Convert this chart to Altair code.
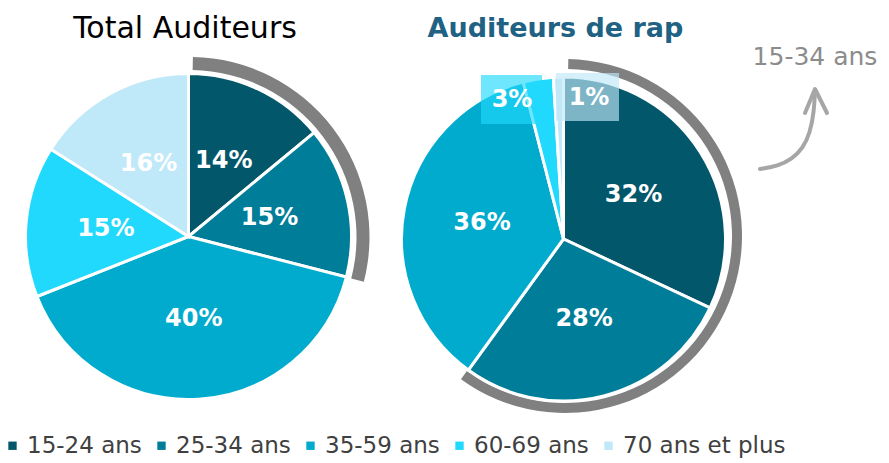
import altair as alt
import pandas as pd

# ---------------- data ----------------
ages = ["15-24 ans", "25-34 ans", "35-59 ans", "60-69 ans", "70 ans et plus"]
colors = ["#03576B", "#007D98", "#00ABCD", "#21D9FD", "#BFE8F8"]
total_values = [14, 15, 40, 15, 16]
rap_values = [32, 28, 36, 3, 1]
highlight_groups = 2  # 15-24 + 25-34 = "15-34 ans"

title_left = "Total Auditeurs"
title_right = "Auditeurs de rap"
annot_text = "15-34 ans"

# callout boxes for the small slices of the rap pie (chart pixels)
callout_age = ["60-69 ans", "70 ans et plus"]
callout_label = ["3%", "1%"]
callout_bx = [473, 548]
callout_bx2 = [534, 611]
callout_by = [67, 65]
callout_by2 = [116, 113]
callout_tx = [504, 581]
callout_ty = [92, 90]

# annotation arrow (chart pixels)
curve_x = [752, 770, 784, 795, 802, 806, 807]
curve_y = [161, 158, 151, 140, 125, 104, 83]
head_x = [797, 807, 819]
head_y = [105, 81, 105]

W, H = 873, 452
FONT = "DejaVu Sans"


def pie_df(values):
    rows, cum = [], 0
    for i, (a, v) in enumerate(zip(ages, values)):
        rows.append(dict(age=a, value=v, order=i, mid=cum + v / 2, label=f"{v}%"))
        cum += v
    return pd.DataFrame(rows)


theta_scale = alt.Scale(domain=[0, 100])
color_scale = alt.Scale(domain=ages, range=colors)
px_x = alt.Scale(domain=[0, W], range=[0, W], nice=False, zero=False)
px_y = alt.Scale(domain=[0, H], range=[0, H], nice=False, zero=False)

legend = alt.Legend(
    orient="none", legendX=-7, legendY=426, direction="horizontal", title=None,
    symbolType="square", symbolSize=70, symbolStrokeWidth=0,
    labelFont=FONT, labelFontSize=23, labelColor="#404040", labelLimit=400,
    columnPadding=8, labelOffset=3, padding=0,
)


def gray_ring(values, cx, cy, r0, r1):
    df = pd.DataFrame({"start": [0.3], "end": [sum(values[:highlight_groups])]})
    return alt.Chart(df).mark_arc(innerRadius=r0, outerRadius=r1, color="#808080").encode(
        theta=alt.Theta("start:Q", stack=None, scale=theta_scale),
        theta2="end:Q",
        x=alt.value(cx), y=alt.value(cy),
    )


def pie(values, cx, cy, r, show_legend):
    df = pie_df(values)
    arcs = alt.Chart(df).mark_arc(outerRadius=r, stroke="white", strokeWidth=3).encode(
        theta=alt.Theta("value:Q", stack=True, scale=theta_scale),
        color=alt.Color("age:N", scale=color_scale, legend=legend if show_legend else None),
        order=alt.Order("order:Q"),
        x=alt.value(cx), y=alt.value(cy),
    )
    labels = alt.Chart(df).transform_filter("datum.value >= 5").mark_text(
        radius=83, font=FONT, fontSize=24, fontWeight="bold", color="white",
        align="center", baseline="middle",
    ).encode(
        theta=alt.Theta("mid:Q", stack=None, scale=theta_scale),
        text="label:N",
        x=alt.value(cx), y=alt.value(cy),
    )
    return arcs, labels


left_ring = gray_ring(total_values, 181.5, 229, 167, 180)
right_ring = gray_ring(rap_values, 557, 228, 167, 177)
left_arcs, left_labels = pie(total_values, 180.5, 228.5, 163, True)
right_arcs, right_labels = pie(rap_values, 555.5, 231, 162, False)

callouts = pd.DataFrame({
    "age": callout_age, "label": callout_label,
    "bx": callout_bx, "bx2": callout_bx2, "by": callout_by, "by2": callout_by2,
    "tx": callout_tx, "ty": callout_ty,
})
boxes = alt.Chart(callouts).mark_rect(opacity=0.65).encode(
    x=alt.X("bx:Q", scale=px_x, axis=None), x2="bx2:Q",
    y=alt.Y("by:Q", scale=px_y, axis=None), y2="by2:Q",
    color=alt.Color("age:N", scale=color_scale, legend=None),
)
box_text = alt.Chart(callouts).mark_text(
    font=FONT, fontSize=24, fontWeight="bold", color="white", align="center", baseline="middle"
).encode(
    x=alt.X("tx:Q", scale=px_x, axis=None),
    y=alt.Y("ty:Q", scale=px_y, axis=None),
    text="label:N",
)

one = pd.DataFrame({"a": [0]})
t_left = alt.Chart(one).mark_text(
    text=title_left, font=FONT, fontSize=30, color="#000000", align="center", baseline="alphabetic"
).encode(x=alt.value(177), y=alt.value(30))
t_right = alt.Chart(one).mark_text(
    text=title_right, font=FONT, fontSize=27, fontWeight="bold", color="#1F6284",
    align="center", baseline="alphabetic"
).encode(x=alt.value(547.5), y=alt.value(29))
t_annot = alt.Chart(one).mark_text(
    text=annot_text, font=FONT, fontSize=25, color="#8C8C8C", align="center", baseline="alphabetic"
).encode(x=alt.value(807), y=alt.value(57))

curve_df = pd.DataFrame({"x": curve_x, "y": curve_y, "i": list(range(len(curve_x)))})
head_df = pd.DataFrame({"x": head_x, "y": head_y, "i": list(range(len(head_x)))})
curve = alt.Chart(curve_df).mark_line(
    color="#A6A6A6", strokeWidth=4, strokeCap="round", interpolate="basis"
).encode(
    x=alt.X("x:Q", scale=px_x, axis=None),
    y=alt.Y("y:Q", scale=px_y, axis=None),
    order="i:Q",
)
head = alt.Chart(head_df).mark_line(
    color="#A6A6A6", strokeWidth=4, strokeCap="round", strokeJoin="round"
).encode(
    x=alt.X("x:Q", scale=px_x, axis=None),
    y=alt.Y("y:Q", scale=px_y, axis=None),
    order="i:Q",
)

chart = alt.layer(
    left_ring, right_ring, left_arcs, right_arcs, left_labels, right_labels,
    boxes, box_text, t_left, t_right, t_annot, curve, head,
).properties(
    width=W, height=H, padding=0, autosize=alt.AutoSizeParams(type="none")
).configure_view(stroke=None)

chart.save("out.html", embed_options={"renderer": "svg", "actions": False})
